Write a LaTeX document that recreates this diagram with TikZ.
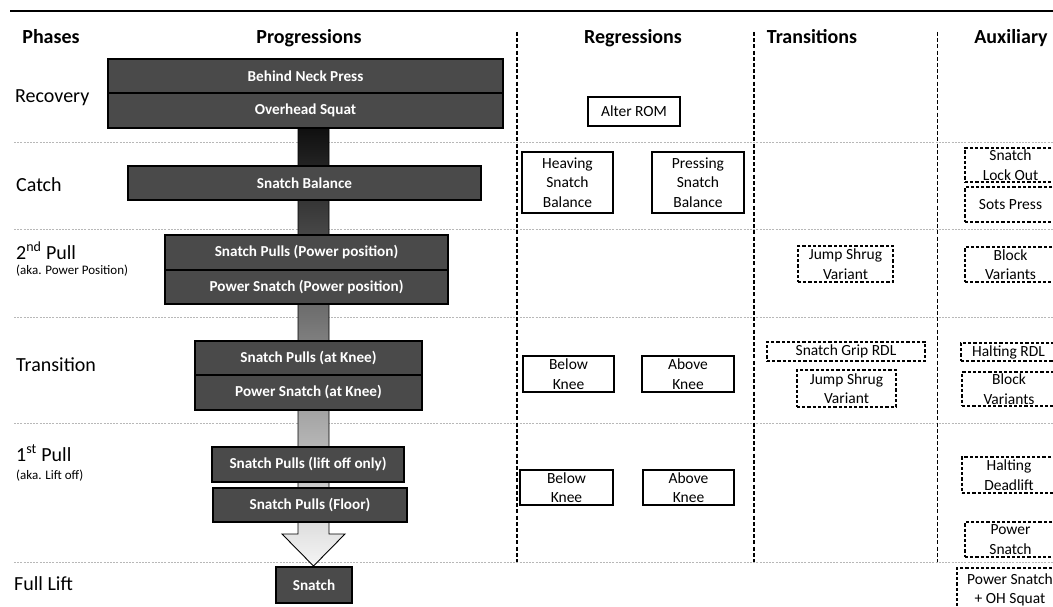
\documentclass[tikz,border=0pt]{standalone}
\usepackage{fontspec}
\setmainfont{Carlito}
\definecolor{boxgray}{HTML}{4A4A4A}
\definecolor{rowgray}{HTML}{B8B8B8}
\newcommand\ftBox{\fontsize{15.5}{19.5}\selectfont}
\newcommand\ftDark{\fontsize{15.2}{19.5}\selectfont\bfseries}
\newcommand\ftHead{\fontsize{20}{24}\selectfont\bfseries}
\newcommand\ftPhase{\fontsize{20}{24}\selectfont}
\newcommand\ftSub{\fontsize{13}{16}\selectfont}
\newcommand\mkbox[8]{%
  \pgfmathsetmacro\mkW{#6-#4}\pgfmathsetmacro\mkH{#7-#5}%
  \pgfmathsetmacro\mkX{(#4+#6)/2}\pgfmathsetmacro\mkY{(#5+#7)/2}%
  \node[#1, minimum width=\mkW pt, minimum height=\mkH pt] (#3) at (\mkX,\mkY) {};
  \node[#2] (#3-t) at (#3.center) {#8};%
}
\begin{document}
\begin{tikzpicture}[x=1pt,y=-1pt,
  dark/.style={draw=black, line width=1.1pt, fill=boxgray, inner sep=0pt},
  darktxt/.style={inner sep=0pt, align=center, font=\ftDark, text=white},
  reg/.style={draw=black, line width=1.1pt, fill=white, inner sep=0pt},
  trn/.style={draw=black, line width=1.1pt, dash pattern=on 3.2pt off 2pt, fill=white, inner sep=0pt},
  btxt/.style={inner sep=0pt, align=center, font=\ftBox, text=black},
  head/.style={font=\ftHead, anchor=base, inner sep=0pt},
  phase/.style={font=\ftPhase, anchor=base west, inner sep=0pt},
  sublab/.style={font=\ftSub, anchor=base west, inner sep=0pt},
  rowline/.style={draw=rowgray, line width=0.8pt, dash pattern=on 2pt off 1.2pt},
  colline/.style={draw=black, line width=1.2pt, dash pattern=on 4pt off 2.2pt},
]
\useasboundingbox (0,0) rectangle (1053,607);
\clip (0,0) rectangle (1053,607);

% top rule
\coordinate (tl) at (10,10.8);
\coordinate (tr) at (1053,10.8);
\draw[line width=2.4pt] (tl) -- (tr);

% headers
\node[head] (hPh) at (51,44) {Phases};
\node[head] (hPr) at (309,44) {Progressions};
\node[head] (hRe) at (633,44) {Regressions};
\node[head] (hTr) at (812,44) {Transitions};
\node[head] (hAu) at (1011,44) {Auxiliary};

% row separators
\foreach \yy/\nm in {142/r1,229/r2,317/r3,423/r4,562/r5}{
  \coordinate (\nm a) at (14,\yy);
  \coordinate (\nm b) at (1053,\yy);
  \draw[rowline] (\nm a) -- (\nm b);
}

% column separators
\foreach \xx/\nm in {517/c1,754/c2,937.5/c3}{
  \coordinate (\nm a) at (\xx,32);
  \coordinate (\nm b) at (\xx,562);
  \draw[colline] (\nm a) -- (\nm b);
}

% phase labels
\node[phase] (pRec) at (15,103) {Recovery};
\node[phase] (pCat) at (16,192) {Catch};
\node[phase] (p2nd) at (16,259) {2\textsuperscript{nd} Pull};
\node[sublab] (p2ndS) at (16,274) {(aka. Power Position)};
\node[phase] (pTra) at (16,371) {Transition};
\node[phase] (p1st) at (16,461) {1\textsuperscript{st} Pull};
\node[sublab] (p1stS) at (16,479) {(aka. Lift off)};
\node[phase] (pFul) at (14,590) {Full Lift};

% gradient arrow
\shade[top color=black!94, bottom color=black!4, draw=black, line width=0.9pt]
  (298,128) -- (329,128) -- (329,534) -- (345,534) -- (313.5,566) -- (282,534) -- (298,534) -- cycle;

% progression boxes
\mkbox{dark}{darktxt}{bnp}{108}{59}{503}{93}{Behind Neck Press}
\mkbox{dark}{darktxt}{ohs}{108}{93}{503}{128}{Overhead Squat}
\mkbox{dark}{darktxt}{sbal}{128}{166}{481}{200}{Snatch Balance}
\mkbox{dark}{darktxt}{spp}{165}{235}{448}{270}{Snatch Pulls (Power position)}
\mkbox{dark}{darktxt}{psp}{165}{270}{448}{304}{Power Snatch (Power position)}
\mkbox{dark}{darktxt}{spk}{195}{341}{422}{375}{Snatch Pulls (at Knee)}
\mkbox{dark}{darktxt}{psk}{195}{375}{422}{410}{Power Snatch (at Knee)}
\mkbox{dark}{darktxt}{splo}{212}{447}{404}{482}{Snatch Pulls (lift off only)}
\mkbox{dark}{darktxt}{spf}{213}{488}{407}{522}{Snatch Pulls (Floor)}
\mkbox{dark}{darktxt}{sn}{276}{567}{352}{603}{Snatch}

% regressions
\mkbox{reg}{btxt}{arom}{588}{97}{680}{126}{Alter ROM}
\mkbox{reg}{btxt}{hsb}{522}{152}{613}{213}{Heaving\\Snatch\\Balance}
\mkbox{reg}{btxt}{psb}{652}{152}{744}{213}{Pressing\\Snatch\\Balance}
\mkbox{reg}{btxt}{bk1}{523}{356}{614}{392}{Below\\Knee}
\mkbox{reg}{btxt}{ak1}{642}{356}{734}{392}{Above\\Knee}
\mkbox{reg}{btxt}{bk2}{520}{470}{613}{505}{Below\\Knee}
\mkbox{reg}{btxt}{ak2}{643}{470}{734}{505}{Above\\Knee}

% transitions
\mkbox{trn}{btxt}{jsv1}{798}{246}{893}{282}{Jump Shrug\\Variant}
\mkbox{trn}{btxt}{sgr}{767}{342}{925}{361}{Snatch Grip RDL}
\mkbox{trn}{btxt}{jsv2}{797}{370}{896}{407}{Jump Shrug\\Variant}

% auxiliary
\mkbox{trn}{btxt}{slo}{965}{148}{1056}{182}{Snatch\\Lock Out}
\mkbox{trn}{btxt}{sots}{965}{187}{1056}{222}{Sots Press}
\mkbox{trn}{btxt}{blv1}{965}{247}{1056}{282}{Block\\Variants}
\mkbox{trn}{btxt}{hrdl}{961}{343}{1056}{361}{Halting RDL}
\mkbox{trn}{btxt}{blv2}{962}{372}{1056}{406}{Block\\Variants}
\mkbox{trn}{btxt}{hdl}{962}{457}{1056}{493}{Halting\\Deadlift}
\mkbox{trn}{btxt}{psn}{965}{522}{1056}{557}{Power\\Snatch}
\mkbox{trn}{btxt}{psoh}{957}{568}{1063}{612}{Power Snatch\\+ OH Squat}
\end{tikzpicture}
\end{document}
